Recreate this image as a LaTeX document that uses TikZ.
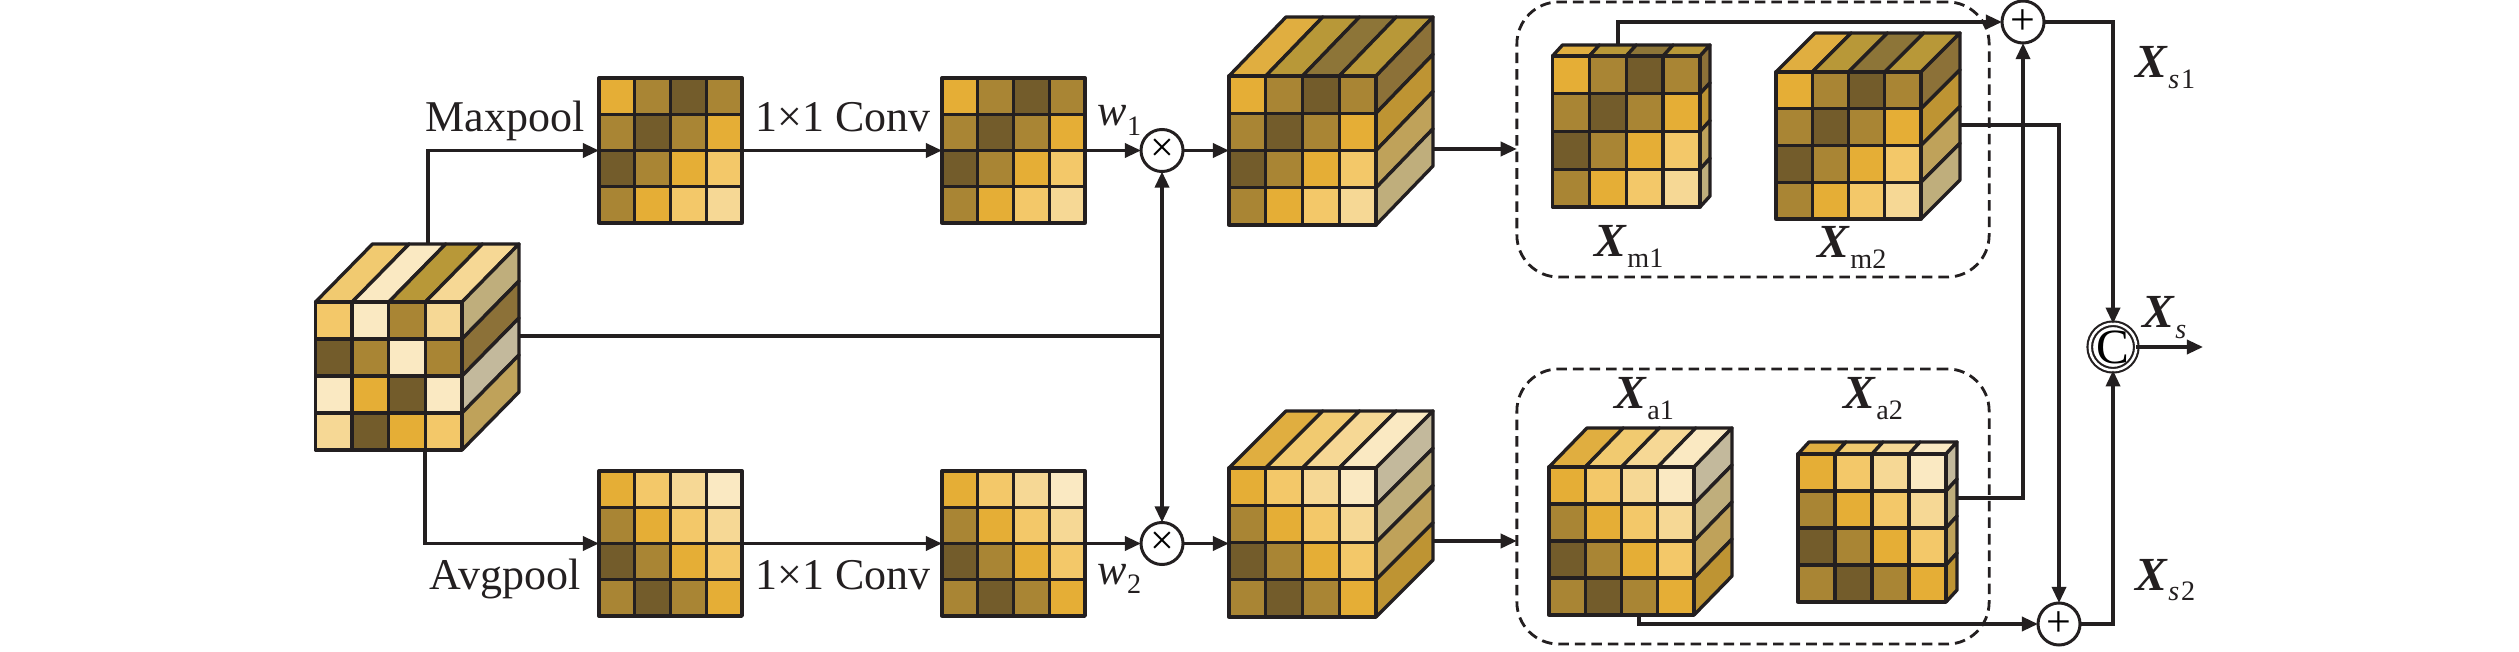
\documentclass[tikz,border=0pt]{standalone}
\usepackage{fontspec}
\setmainfont{Liberation Serif}
\usetikzlibrary{
    arrows.meta,
    calc
}
\definecolor{inkline}{HTML}{231F20}
\definecolor{cella}{HTML}{E5AE36}
\definecolor{cellb}{HTML}{A98534}
\definecolor{cellc}{HTML}{735C2B}
\definecolor{celld}{HTML}{F3C869}
\definecolor{celle}{HTML}{F6D895}
\definecolor{cellf}{HTML}{FAE9C2}
\definecolor{topa}{HTML}{E0AE40}
\definecolor{topb}{HTML}{B89838}
\definecolor{topc}{HTML}{8D7538}
\definecolor{topd}{HTML}{F1CA70}
\definecolor{tope}{HTML}{F6D895}
\definecolor{topf}{HTML}{FAE9C2}
\definecolor{sidea}{HTML}{BE9433}
\definecolor{sidec}{HTML}{8C7138}
\definecolor{sided}{HTML}{BFA25A}
\definecolor{sidee}{HTML}{BFAE7C}
\definecolor{sidef}{HTML}{C3B99C}
\tikzset{
    cellline/.style={draw=inkline, line width=0.95pt, line join=round},
    wire/.style={draw=inkline, line width=1pt},
    arrowwire/.style={wire, -{Triangle[length=4.6pt,width=4pt]}},
    bothwire/.style={wire, {Triangle[length=4.6pt,width=4pt]}-{Triangle[length=4.6pt,width=4pt]}},
    dashbox/.style={draw=inkline, line width=0.8pt, rounded corners=0.42cm,
        dash pattern=on 3pt off 1.7pt, inner sep=0pt, outer sep=0pt},
    opnode/.style={circle, draw=inkline, line width=0.85pt, fill=white, inner sep=0pt,
        outer sep=0pt, minimum size=0.42cm},
    note/.style={anchor=base west, inner sep=0pt, text=inkline, font=\fontsize{12.5}{15}\selectfont},
    featnote/.style={anchor=base west, inner sep=0pt, text=inkline, font=\fontsize{13.5}{16}\selectfont}
}
\def\frontA{d,f,b,e,c,b,f,b,f,a,c,f,e,c,a,d}
\def\topA{d,f,b,e}
\def\sideA{e,c,f,d}
\def\frontB{a,b,c,b,b,c,b,a,c,b,a,d,b,a,d,e}
\def\topB{a,b,c,b}
\def\sideB{c,a,d,e}
\def\frontC{a,d,e,f,b,a,d,e,c,b,a,d,b,c,b,a}
\def\topC{a,d,e,f}
\def\sideC{f,e,d,a}
% name, left, top, right, bottom, colour set
\newcommand{\featgrid}[6]{
    \expandafter\let\expandafter\curlist\csname front#6\endcsname
    \foreach \tone [count=\n from 0] in \curlist {
        \pgfmathtruncatemacro\rw{int(\n/4)}
        \pgfmathtruncatemacro\cl{mod(\n,4)}
        \path[cellline, fill=cell\tone]
            ({#2+\cl*(#4-#2)/4},{#3+\rw*(#5-#3)/4}) rectangle
            ({#2+(\cl+1)*(#4-#2)/4},{#3+(\rw+1)*(#5-#3)/4});
    }
    \node[inner sep=0pt, outer sep=0pt, minimum width={(#4-#2)*0.01cm}, minimum height={(#5-#3)*0.01cm}]
        (#1) at ({(#2+#4)/2},{(#3+#5)/2}) {};
}
% the same with depth: name, left, top, right, bottom, dx, dy, colour set
\newcommand{\featblock}[8]{
    \expandafter\let\expandafter\curlist\csname top#8\endcsname
    \foreach \tone [count=\n from 0] in \curlist {
        \path[cellline, fill=top\tone]
            ({#2+\n*(#4-#2)/4},#3) -- ({#2+\n*(#4-#2)/4+#6},{#3+#7}) --
            ({#2+(\n+1)*(#4-#2)/4+#6},{#3+#7}) -- ({#2+(\n+1)*(#4-#2)/4},#3) -- cycle;
    }
    \expandafter\let\expandafter\curlist\csname side#8\endcsname
    \foreach \tone [count=\n from 0] in \curlist {
        \path[cellline, fill=side\tone]
            (#4,{#3+\n*(#5-#3)/4}) -- ({#4+#6},{#3+\n*(#5-#3)/4+#7}) --
            ({#4+#6},{#3+(\n+1)*(#5-#3)/4+#7}) -- (#4,{#3+(\n+1)*(#5-#3)/4}) -- cycle;
    }
    \featgrid{#1}{#2}{#3}{#4}{#5}{#8}
}
\newcommand{\featX}[1]{\textbf{\textit{X}}\raisebox{-2.9pt}{\fontsize{8}{9}\selectfont #1}}
\newcommand{\weight}[1]{\textit{w}\raisebox{-2.6pt}{\fontsize{8}{9}\selectfont #1}}

\begin{document}
\begin{tikzpicture}[x=0.01cm, y=-0.01cm]
    \useasboundingbox (0,0) rectangle (2519,652);
    \node[dashbox, minimum width=4.72cm, minimum height=2.75cm] (boxM) at (1753,139.5) {};
    \node[dashbox, minimum width=4.72cm, minimum height=2.75cm] (boxA) at (1753,506.5) {};

    \featblock{cubeA}{315.5}{302}{462}{450}{57}{-58}{A}
    \featgrid{flatA}{599}{78}{742}{223}{B}
    \featgrid{flatB}{942}{78}{1085}{223}{B}
    \featgrid{flatC}{599}{471}{742}{616}{C}
    \featgrid{flatD}{942}{471}{1085}{616}{C}
    \featblock{cubeB}{1229}{76}{1376}{225}{57}{-59}{B}
    \featblock{cubeC}{1229}{468}{1376}{617}{57}{-57}{C}
    \featblock{blockMa}{1552.5}{56}{1700}{207}{10}{-11}{B}
    \featblock{blockMb}{1776}{72}{1921}{219}{39}{-39}{B}
    \featblock{blockAa}{1549}{467}{1694}{615}{38}{-39}{C}
    \featblock{blockAb}{1798}{454}{1946}{602}{11}{-12}{C}

    \node[opnode, font=\fontsize{12}{12}\selectfont] (mulT) at (1162,150.5) {×};
    \node[opnode, font=\fontsize{12}{12}\selectfont] (mulB) at (1162,543.5) {×};
    \node[opnode, font=\fontsize{12.5}{12.5}\selectfont] (addT) at (2023,22) {+};
    \node[opnode, font=\fontsize{12.5}{12.5}\selectfont] (addB) at (2059,624) {+};
    \node[opnode, double, double distance=0.7pt, line width=0.6pt, minimum size=0.37cm, font=\fontsize{14}{14}\selectfont] (concat) at (2113,347) {C};

    \coordinate (cubeAup) at (428,244);
    \coordinate (cubeAdown) at (425,450);
    \coordinate (cubeAout) at (518.6,336);
    \coordinate (join) at (1162,336);
    \coordinate (cubeBout) at (1433,149);
    \coordinate (cubeCout) at (1433,541);
    \coordinate (blockMaup) at (1618,45);
    \coordinate (blockMbout) at (1960,125);
    \coordinate (blockAbout) at (1957,498);
    \coordinate (blockAadown) at (1639,615);
    \coordinate (outEnd) at (2203,347);

    \draw[arrowwire] (cubeAup) |- (flatA.west);
    \draw[arrowwire] (cubeAdown) |- (flatC.west);
    \draw[wire] (cubeAout) -- (join);
    \draw[bothwire] (mulT.south) -- (mulB.north);
    \draw[arrowwire] (flatA.east) -- (flatB.west);
    \draw[arrowwire] (flatC.east) -- (flatD.west);
    \draw[arrowwire] (flatB.east) -- (mulT.west);
    \draw[arrowwire] (flatD.east) -- (mulB.west);
    \draw[arrowwire] (mulT.east) -- (cubeB.west);
    \draw[arrowwire] (mulB.east) -- (cubeC.west |- mulB);
    \draw[arrowwire] (cubeBout) -- (cubeBout -| boxM.west);
    \draw[arrowwire] (cubeCout) -- (cubeCout -| boxA.west);
    \draw[arrowwire] (blockMaup) |- (addT.west);
    \draw[arrowwire] (blockAadown) |- (addB.west);
    \draw[arrowwire] (blockMbout) -| (addB.north);
    \draw[arrowwire] (blockAbout) -| (addT.south);
    \draw[arrowwire] (addT.east) -| (concat.north);
    \draw[arrowwire] (addB.east) -| (concat.south);
    \draw[arrowwire] (concat.east) -- (outEnd);

    \node[note] (maxLabel) at (425,132) {Maxpool};
    \node[note] (avgLabel) at (429,589) {Avgpool};
    \node[note] (convT) at (755,132) {1×1 Conv};
    \node[note] (convB) at (755,589) {1×1 Conv};
    \node[note] (wOne) at (1097,126) {\weight{1}};
    \node[note] (wTwo) at (1097,584) {\weight{2}};
    \node[featnote] (labMa) at (1594,257) {\featX{m1}};
    \node[featnote] (labMb) at (1817,258) {\featX{m2}};
    \node[featnote] (labAa) at (1614,409) {\featX{a1}};
    \node[featnote] (labAb) at (1843,409) {\featX{a2}};
    \node[featnote] (labSa) at (2135,78) {\featX{\textit{s}\kern0.5pt 1}};
    \node[featnote] (labS) at (2142,328) {\featX{\textit{s}}};
    \node[featnote] (labSb) at (2135,590) {\featX{\textit{s}\kern0.5pt 2}};
\end{tikzpicture}
\end{document}
